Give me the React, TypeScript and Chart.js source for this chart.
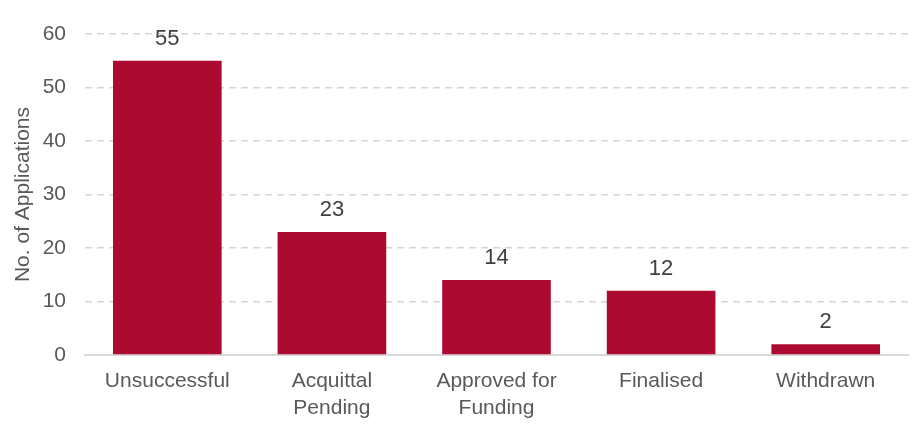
import React, { useEffect, useRef } from "react";
import { Chart, registerables } from "chart.js";

Chart.register(...registerables);

const categories: (string | string[])[] = [
  "Unsuccessful",
  ["Acquittal", "Pending"],
  ["Approved for", "Funding"],
  "Finalised",
  "Withdrawn",
];
const applications = [55, 23, 14, 12, 2];
const yTicks = [0, 10, 20, 30, 40, 50, 60];

const FONT = "'Liberation Sans', Arial, sans-serif";

const dataLabels = {
  id: "dataLabels",
  afterDatasetsDraw(chart: any) {
    const ctx = chart.ctx;
    const meta = chart.getDatasetMeta(0);
    ctx.save();
    ctx.font = `22px ${FONT}`;
    ctx.fillStyle = "#404040";
    ctx.textAlign = "center";
    ctx.textBaseline = "alphabetic";
    meta.data.forEach((bar: any, i: number) => {
      ctx.fillText(String(applications[i]), bar.x, bar.y - 16);
    });
    ctx.restore();
  },
};

export default function App() {
  const ref = useRef<HTMLCanvasElement | null>(null);
  useEffect(() => {
    document.body.style.margin = "0";
    if (!ref.current) return;
    const chart = new Chart(ref.current, {
      type: "bar",
      data: {
        labels: categories as any,
        datasets: [
          {
            data: applications,
            backgroundColor: "#AD0A31",
            borderWidth: 0,
            barPercentage: 0.66,
            categoryPercentage: 1,
          },
        ],
      },
      options: {
        animation: false,
        responsive: false,
        maintainAspectRatio: false,
        layout: { padding: { top: 34, right: 6, bottom: 0, left: 0 } },
        plugins: {
          legend: { display: false },
          tooltip: { enabled: false },
        },
        scales: {
          x: {
            grid: { display: false, drawTicks: false },
            border: { display: true, color: "#d9d9d9", width: 2 },
            ticks: {
              color: "#595959",
              font: { family: FONT, size: 21, lineHeight: 1.28 },
              padding: 13,
              maxRotation: 0,
              autoSkip: false,
            },
            afterFit(scale: any) {
              scale.height = 73;
            },
          },
          y: {
            min: 0,
            max: 60,
            afterBuildTicks(scale: any) {
              scale.ticks = yTicks.map((v) => ({ value: v }));
            },
            grid: { color: "#d6d6d6", lineWidth: 1.5, drawTicks: false },
            border: { display: false, dash: [7, 5] },
            ticks: {
              color: "#595959",
              font: { family: FONT, size: 21 },
              padding: 19,
            },
            title: {
              display: true,
              text: "No. of Applications",
              color: "#595959",
              font: { family: FONT, size: 21, lineHeight: 1.2 },
              padding: { top: 11, bottom: 0 },
            },
            afterFit(scale: any) {
              scale.width = 85;
            },
          },
        },
      },
      plugins: [dataLabels],
    });
    return () => chart.destroy();
  }, []);
  return (
    <div style={{ width: 914, height: 428 }}>
      <canvas ref={ref} width={914} height={428} style={{ width: 914, height: 428 }} />
    </div>
  );
}
